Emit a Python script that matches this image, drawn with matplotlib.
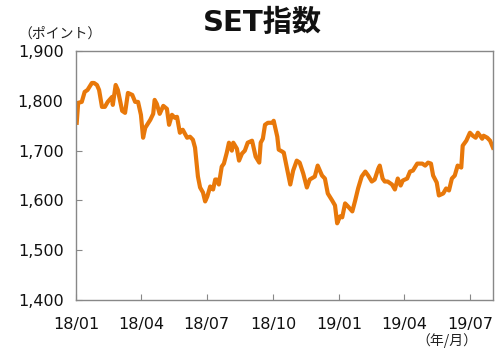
import matplotlib
matplotlib.use("Agg")
import matplotlib.pyplot as plt
import pandas as pd

plt.rcParams['font.family'] = ['DejaVu Sans', 'Noto Sans CJK JP']

# %% data (SET index, points)
dates = [
    "2018-01-02", "2018-01-04", "2018-01-09", "2018-01-13", "2018-01-17", "2018-01-23",
    "2018-01-26", "2018-01-30", "2018-02-02", "2018-02-06", "2018-02-10", "2018-02-14",
    "2018-02-20", "2018-02-21", "2018-02-25", "2018-02-28", "2018-03-06", "2018-03-10",
    "2018-03-14", "2018-03-20", "2018-03-24", "2018-03-28", "2018-04-01", "2018-04-04",
    "2018-04-07", "2018-04-14", "2018-04-18", "2018-04-20", "2018-04-23", "2018-04-27",
    "2018-05-02", "2018-05-07", "2018-05-10", "2018-05-14", "2018-05-18", "2018-05-21",
    "2018-05-25", "2018-05-29", "2018-06-04", "2018-06-08", "2018-06-12", "2018-06-15",
    "2018-06-19", "2018-06-22", "2018-06-26", "2018-06-29", "2018-07-02", "2018-07-06",
    "2018-07-10", "2018-07-13", "2018-07-15", "2018-07-18", "2018-07-22", "2018-07-25",
    "2018-07-29", "2018-08-01", "2018-08-05", "2018-08-07", "2018-08-12", "2018-08-15",
    "2018-08-19", "2018-08-23", "2018-08-27", "2018-09-02", "2018-09-03", "2018-09-07",
    "2018-09-12", "2018-09-14", "2018-09-17", "2018-09-20", "2018-09-24", "2018-09-30",
    "2018-10-02", "2018-10-07", "2018-10-09", "2018-10-14", "2018-10-16", "2018-10-20",
    "2018-10-25", "2018-10-29", "2018-11-03", "2018-11-07", "2018-11-12", "2018-11-17",
    "2018-11-21", "2018-11-28", "2018-12-02", "2018-12-08", "2018-12-12", "2018-12-16",
    "2018-12-22", "2018-12-26", "2018-12-29", "2019-01-02", "2019-01-05", "2019-01-09",
    "2019-01-13", "2019-01-19", "2019-01-23", "2019-01-27", "2019-02-01", "2019-02-06",
    "2019-02-10", "2019-02-15", "2019-02-19", "2019-02-24", "2019-02-26", "2019-03-02",
    "2019-03-05", "2019-03-09", "2019-03-15", "2019-03-19", "2019-03-23", "2019-03-27",
    "2019-03-30", "2019-04-05", "2019-04-09", "2019-04-13", "2019-04-19", "2019-04-26",
    "2019-04-30", "2019-05-04", "2019-05-08", "2019-05-11", "2019-05-16", "2019-05-19",
    "2019-05-25", "2019-05-29", "2019-06-02", "2019-06-06", "2019-06-10", "2019-06-14",
    "2019-06-19", "2019-06-21", "2019-06-26", "2019-07-01", "2019-07-05", "2019-07-09",
    "2019-07-12", "2019-07-18", "2019-07-20", "2019-07-25", "2019-07-29", "2019-08-02",
]
set_index = [
    1756, 1796, 1798, 1818, 1822, 1836,
    1836, 1832, 1822, 1788, 1788, 1798,
    1808, 1792, 1832, 1822, 1780, 1776,
    1816, 1812, 1798, 1798, 1772, 1726,
    1746, 1762, 1774, 1802, 1794, 1774,
    1790, 1784, 1752, 1772, 1766, 1768,
    1736, 1742, 1726, 1728, 1722, 1706,
    1648, 1626, 1616, 1598, 1608, 1628,
    1622, 1642, 1642, 1632, 1668, 1674,
    1696, 1716, 1700, 1716, 1704, 1680,
    1694, 1700, 1716, 1720, 1714, 1688,
    1676, 1716, 1724, 1752, 1756, 1756,
    1760, 1728, 1702, 1698, 1696, 1668,
    1632, 1660, 1680, 1676, 1654, 1626,
    1642, 1648, 1670, 1650, 1644, 1614,
    1600, 1590, 1554, 1568, 1566, 1594,
    1588, 1578, 1600, 1624, 1648, 1658,
    1650, 1638, 1642, 1664, 1670, 1644,
    1638, 1638, 1632, 1622, 1644, 1630,
    1640, 1644, 1658, 1660, 1674, 1674,
    1670, 1676, 1674, 1650, 1636, 1610,
    1614, 1624, 1620, 1644, 1650, 1670,
    1666, 1710, 1720, 1736, 1730, 1726,
    1736, 1724, 1730, 1726, 1720, 1706,
]
tick_dates = ["2018-01-01", "2018-04-01", "2018-07-01", "2018-10-01",
              "2019-01-01", "2019-04-01", "2019-07-01"]
tick_labels = ["18/01", "18/04", "18/07", "18/10", "19/01", "19/04", "19/07"]
y_ticks = [1400, 1500, 1600, 1700, 1800, 1900]

x = pd.to_datetime(dates)

# %% plot
fig = plt.figure(figsize=(5, 3.55), dpi=100)
ax = fig.add_axes([0.152, 0.155, 0.834, 0.701])
ax.plot(x, set_index, color='#E8780A', lw=3.0, solid_joinstyle='round')

ax.set_xlim(pd.Timestamp("2018-01-01"), pd.Timestamp("2019-08-02"))
ax.set_ylim(1400, 1900)
ax.set_xticks(pd.to_datetime(tick_dates))
ax.set_xticklabels(tick_labels)
ax.set_yticks(y_ticks)
ax.set_yticklabels([f"{v:,}" for v in y_ticks])

for s in ax.spines.values():
    s.set_color('#888888')
    s.set_linewidth(1)
ax.tick_params(axis='both', direction='in', length=4, color='#888888',
               labelsize=11.5, labelcolor='#111111')
ax.tick_params(axis='x', pad=12)
ax.tick_params(axis='y', pad=9)

fig.text(0.525, 0.935, "SET指数", ha='center', va='center', fontsize=21,
         fontweight='bold', color='#111111',
         family=['DejaVu Sans', 'Noto Sans CJK JP'])
fig.text(0.12, 0.905, "（ポイント）", ha='center', va='center', fontsize=10,
         color='#222222', family=['Noto Sans CJK JP'])
fig.text(0.893, 0.042, "（年/月）", ha='center', va='center', fontsize=10,
         color='#222222', family=['Noto Sans CJK JP'])

fig.savefig("out.png", dpi=100)
